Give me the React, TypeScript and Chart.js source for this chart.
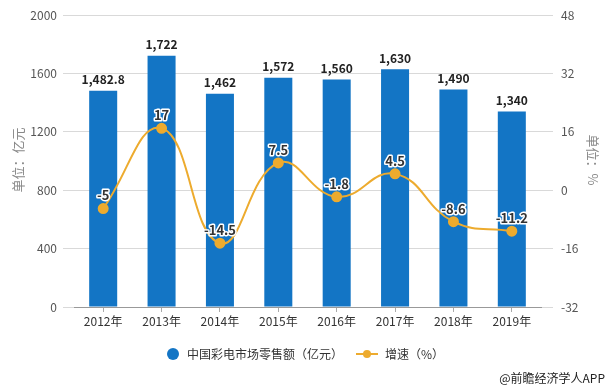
import React, { useEffect, useRef } from "react";
import { Chart, registerables } from "chart.js";

Chart.register(...registerables);

const categories = ["2012年", "2013年", "2014年", "2015年", "2016年", "2017年", "2018年", "2019年"];
const salesValues = [1482.8, 1722, 1462, 1572, 1560, 1630, 1490, 1340];
const growthValues = [-5, 17, -14.5, 7.5, -1.8, 4.5, -8.6, -11.2];
const leftTicks = [0, 400, 800, 1200, 1600, 2000];
const rightTicks = [-32, -16, 0, 16, 32, 48];
const salesLabel = "中国彩电市场零售额（亿元）";
const growthLabel = "增速（%）";
const leftTitle = "单位：亿元";
const rightTitle = "单位：%";
const credit = "@前瞻经济学人APP";

const BAR = "#1375C5";
const LINE = "#EDAB2E";
const FONT = "'Noto Sans CJK SC', 'Noto Sans', sans-serif";

const overlay = {
  id: "overlay",
  afterDatasetsDraw(chart: any) {
    const ctx = chart.ctx;
    ctx.save();
    const barMeta = chart.getDatasetMeta(0);
    ctx.font = `bold 12px ${FONT}`;
    ctx.textAlign = "center";
    ctx.textBaseline = "middle";
    ctx.fillStyle = "#222";
    barMeta.data.forEach((el: any, i: number) => {
      const txt = salesValues[i].toLocaleString("en-US");
      ctx.fillText(txt, el.x, el.y - 11);
    });
    const lineMeta = chart.getDatasetMeta(1);
    ctx.font = `bold 13px ${FONT}`;
    lineMeta.data.forEach((el: any, i: number) => {
      const txt = String(growthValues[i]);
      ctx.lineWidth = 3;
      ctx.strokeStyle = "#fff";
      ctx.lineJoin = "round";
      ctx.strokeText(txt, el.x, el.y - 13);
      ctx.fillStyle = "#333";
      ctx.fillText(txt, el.x, el.y - 13);
    });
    ctx.restore();
  },
  afterDraw(chart: any) {
    const ctx = chart.ctx;
    ctx.save();
    ctx.font = `13px ${FONT}`;
    ctx.fillStyle = "#888";
    ctx.textAlign = "center";
    ctx.textBaseline = "middle";
    ctx.save();
    ctx.translate(18, 160);
    ctx.rotate(-Math.PI / 2);
    ctx.fillText(leftTitle, 0, 0);
    ctx.restore();
    ctx.save();
    ctx.translate(593, 160);
    ctx.rotate(Math.PI / 2);
    ctx.fillText(rightTitle, 0, 0);
    ctx.restore();

    const ly = 354;
    ctx.fillStyle = BAR;
    ctx.beginPath();
    ctx.arc(173, ly, 6, 0, Math.PI * 2);
    ctx.fill();
    ctx.fillStyle = "#333";
    ctx.textAlign = "left";
    ctx.font = `12px ${FONT}`;
    ctx.fillText(salesLabel, 187, ly);
    ctx.strokeStyle = LINE;
    ctx.lineWidth = 2;
    ctx.beginPath();
    ctx.moveTo(356, ly);
    ctx.lineTo(378, ly);
    ctx.stroke();
    ctx.fillStyle = LINE;
    ctx.beginPath();
    ctx.arc(367, ly, 4, 0, Math.PI * 2);
    ctx.fill();
    ctx.fillStyle = "#333";
    ctx.fillText(growthLabel, 385, ly);

    ctx.font = `12px ${FONT}`;
    ctx.fillStyle = "#222";
    ctx.textAlign = "right";
    ctx.fillText(credit, 605, 378);
    ctx.restore();
  },
};

export default function App() {
  const ref = useRef<HTMLCanvasElement | null>(null);
  useEffect(() => {
    if (!ref.current) return;
    const chart = new Chart(ref.current, {
      type: "bar",
      data: {
        labels: categories,
        datasets: [
          {
            type: "bar",
            label: salesLabel,
            data: salesValues,
            backgroundColor: BAR,
            yAxisID: "y",
            barPercentage: 0.48,
            categoryPercentage: 1,
            order: 2,
          },
          {
            type: "line",
            label: growthLabel,
            data: growthValues,
            borderColor: LINE,
            backgroundColor: LINE,
            borderWidth: 2,
            pointRadius: 4.5,
            pointBackgroundColor: LINE,
            pointBorderColor: LINE,
            tension: 0.45,
            yAxisID: "y1",
            order: 1,
          } as any,
        ],
      },
      options: {
        responsive: false,
        animation: false,
        layout: { padding: { top: 14, left: 0, right: 0, bottom: 0 } },
        plugins: { legend: { display: false }, tooltip: { enabled: false } },
        scales: {
          x: {
            offset: true,
            grid: {
              display: true,
              drawOnChartArea: false,
              drawTicks: true,
              tickLength: 5,
              color: "#aaa",
              offset: false,
            },
            border: { color: "#999" },
            ticks: { color: "#333", font: { size: 12, family: FONT }, padding: 2 },
            afterFit: (s: any) => {
              s.height = 83;
            },
          },
          y: {
            position: "left",
            min: 0,
            max: 2000,
            afterBuildTicks: (s: any) => {
              s.ticks = leftTicks.map((v) => ({ value: v }));
            },
            grid: { color: "#d9d9d9", tickLength: 11, drawTicks: true },
            border: { display: false },
            ticks: {
              color: "#555",
              font: { size: 12, family: FONT },
              padding: 6,
              callback: (v: any) => String(v),
            },
            afterFit: (s: any) => {
              s.width = 74;
            },
          },
          y1: {
            position: "right",
            min: -32,
            max: 48,
            afterBuildTicks: (s: any) => {
              s.ticks = rightTicks.map((v) => ({ value: v }));
            },
            grid: { drawOnChartArea: false, color: "#d9d9d9", tickLength: 12, drawTicks: true },
            border: { display: false },
            ticks: {
              color: "#555",
              font: { size: 12, family: FONT },
              padding: 8,
              callback: (v: any) => String(v),
            },
            afterFit: (s: any) => {
              s.width = 70;
            },
          },
        },
      },
      plugins: [overlay],
    });
    return () => chart.destroy();
  }, []);
  return (
    <div style={{ position: "fixed", left: 0, top: 0, width: 611, height: 390, background: "#fff" }}>
      <canvas ref={ref} width={611} height={390} style={{ width: 611, height: 390 }} />
    </div>
  );
}
